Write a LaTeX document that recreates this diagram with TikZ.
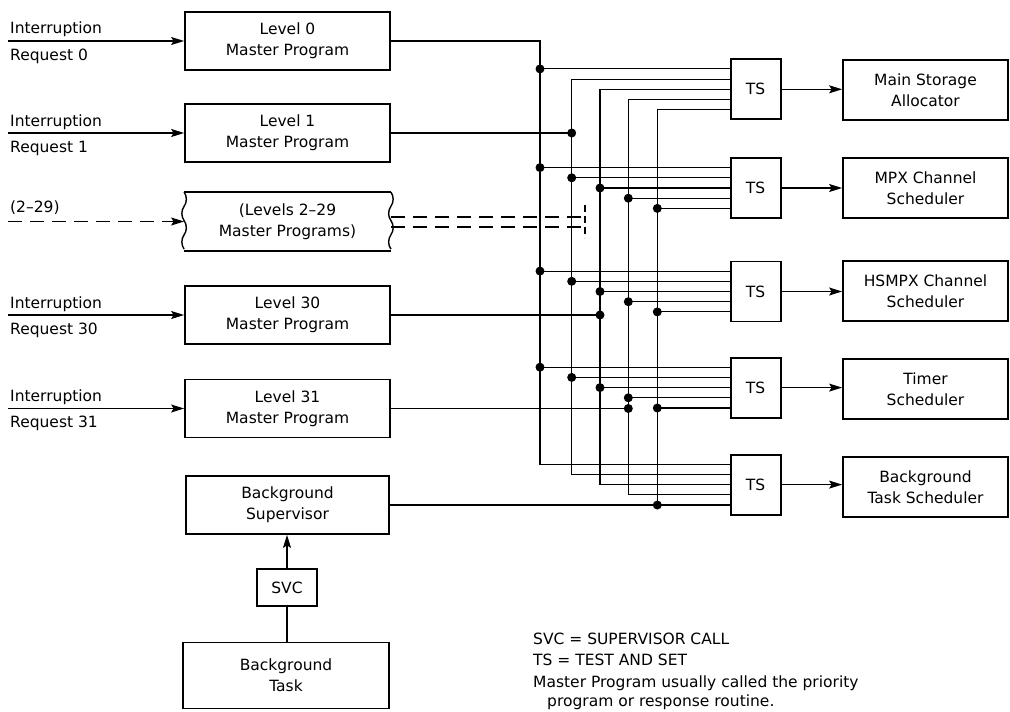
\documentclass[tikz,border=0pt]{standalone}
\usepackage{fontspec}
\setmainfont{DejaVu Sans}
\usetikzlibrary{arrows.meta}
\begin{document}
\begin{tikzpicture}[x=1pt,y=-1pt,
  txt/.style={font=\fontsize{15.5}{21}\selectfont},
  box/.style={draw,line width=1.8pt,align=center,inner sep=0pt,txt},
  lbox/.style={box,minimum width=205pt,minimum height=58pt},
  tsbox/.style={box,minimum width=50pt,minimum height=60pt},
  rbox/.style={box,minimum width=165pt,minimum height=60pt},
  wire/.style={line width=1.1pt},
  arr/.style={wire,-{Stealth[length=13pt,width=8pt,inset=2.5pt]}},
  dashwire/.style={wire,dash pattern=on 14pt off 8pt},
  dot/.style={circle,fill,inner sep=0pt,minimum size=9pt},
  lab/.style={txt,anchor=base west,inner sep=0pt},
]
\useasboundingbox (0,0) rectangle (1010,712);

% ---------------- left column
\node[lbox] (l0) at (287.5,41) {Level 0\\Master Program};
\node[lbox] (l1) at (287.5,133) {Level 1\\Master Program};
\node[box,draw=none,minimum width=205pt,minimum height=57pt] (l2) at (287.5,221.5) {(Levels 2--29\\Master Programs)};
\node[lbox] (l30) at (287.5,315) {Level 30\\Master Program};
\node[lbox] (l31) at (287.5,408.5) {Level 31\\Master Program};
\node[lbox,minimum width=203pt] (bgs) at (287.5,505) {Background\\Supervisor};
\node[box,minimum width=60pt,minimum height=37pt] (svc) at (287,587.5) {SVC};
\node[box,minimum width=206pt,minimum height=66pt] (bgt) at (286,675.5) {Background\\Task};

% broken box for levels 2-29
\draw[line width=1.8pt] (l2.north west) -- (l2.north east);
\draw[line width=1.8pt] (l2.south west) -- (l2.south east);
\draw[line width=1.4pt] (l2.north west)
  .. controls +(3,4) and +(3,-4) .. ++(0,14.25)
  .. controls +(-3,4) and +(-3,-4) .. ++(0,14.25)
  .. controls +(3,4) and +(3,-4) .. ++(0,14.25)
  .. controls +(-3,4) and +(-3,-4) .. ++(0,14.25);
\draw[line width=1.4pt] (l2.north east)
  .. controls +(3,4) and +(3,-4) .. ++(0,14.25)
  .. controls +(-3,4) and +(-3,-4) .. ++(0,14.25)
  .. controls +(3,4) and +(3,-4) .. ++(0,14.25)
  .. controls +(-3,4) and +(-3,-4) .. ++(0,14.25);

% input arrows and labels
\coordinate (leftx) at (8,0);
\foreach \n/\t in {l0/0,l1/1,l30/30,l31/31}{
  \draw[arr] (\n.west -| leftx) -- (\n.west);
  \node[lab] at ([yshift=7pt]\n.west -| 10,0) {Interruption};
  \node[lab] at ([yshift=-19pt]\n.west -| 10,0) {Request \t};
}
\draw[arr,dashwire] (l2.west -| leftx) -- (l2.west);
\node[lab] at (10,212) {(2--29)};

% ---------------- TS boxes and right column
\node[tsbox] (ts1) at (755.6,89.3) {TS};
\node[tsbox] (ts2) at (755.6,188) {TS};
\node[tsbox] (ts3) at (755.6,291.5) {TS};
\node[tsbox] (ts4) at (755.6,387.6) {TS};
\node[tsbox] (ts5) at (755.6,484.6) {TS};

\node[rbox] (r1) at (925.5,90) {Main Storage\\Allocator};
\node[rbox] (r2) at (925.5,188) {MPX Channel\\Scheduler};
\node[rbox] (r3) at (925.5,291) {HSMPX Channel\\Scheduler};
\node[rbox] (r4) at (925.5,389) {Timer\\Scheduler};
\node[rbox] (r5) at (925.5,487) {Background\\Task Scheduler};

\foreach \j in {1,...,5}{
  \draw[arr] (ts\j.east) -- (ts\j.east -| r\j.west);
  \foreach \i in {1,...,5}{
    \coordinate (in\j\i) at ([yshift={(3-\i)*10.2pt}]ts\j.west);
  }
}

% ---------------- buses
\coordinate (b1) at (540,0);
\coordinate (b2) at (571.7,0);
\coordinate (b3) at (600,0);
\coordinate (b4) at (628.3,0);
\coordinate (b5) at (657.3,0);

\draw[wire] (l0.east) -- (l0.east -| b1) -- (in51 -| b1) -- (in51);
\foreach \j in {1,...,4}{
  \draw[wire] (in\j1 -| b1) -- (in\j1);
  \node[dot] at (in\j1 -| b1) {};
}
\foreach \i in {2,3,4}{
  \draw[wire] (in1\i) -- (in1\i -| b\i) -- (in5\i -| b\i) -- (in5\i);
}
\draw[wire] (in15) -- (in15 -| b5) -- (bgs.east -| b5);
\draw[wire] (bgs.east) -- (in55);
\foreach \i in {2,...,5}{
  \foreach \j in {2,3,4}{
    \draw[wire] (in\j\i -| b\i) -- (in\j\i);
    \node[dot] at (in\j\i -| b\i) {};
  }
}
\draw[wire] (l1.east) -- (l1.east -| b2);
\node[dot] at (l1.east -| b2) {};
\draw[wire] (l30.east) -- (l30.east -| b3);
\node[dot] at (l30.east -| b3) {};
\draw[wire] (l31.east) -- (l31.east -| b4);
\node[dot] at (l31.east -| b4) {};
\node[dot] at (bgs.east -| b5) {};

% dashed continuation of levels 2-29
\coordinate (dend) at (582,0);
\coordinate (dv1) at (585,205);
\coordinate (dv2) at (585,238);
\draw[dashwire] ([yshift=4.5pt]l2.east) -- ([yshift=4.5pt]l2.east -| dend);
\draw[dashwire] ([yshift=-5.5pt]l2.east) -- ([yshift=-5.5pt]l2.east -| dend);
\draw[wire,dash pattern=on 7pt off 4pt] (dv1) -- (dv2);

% ---------------- SVC path
\draw[arr] (svc.north) -- (svc.north |- bgs.south);
\draw[wire] (svc.south |- bgt.north) -- (svc.south);

% ---------------- legend
\node[lab] at (533,644) {SVC = SUPERVISOR CALL};
\node[lab] at (533,665.5) {TS = TEST AND SET};
\node[lab] at (533,687) {Master Program usually called the priority};
\node[lab] at (547,706.5) {program or response routine.};
\end{tikzpicture}
\end{document}
